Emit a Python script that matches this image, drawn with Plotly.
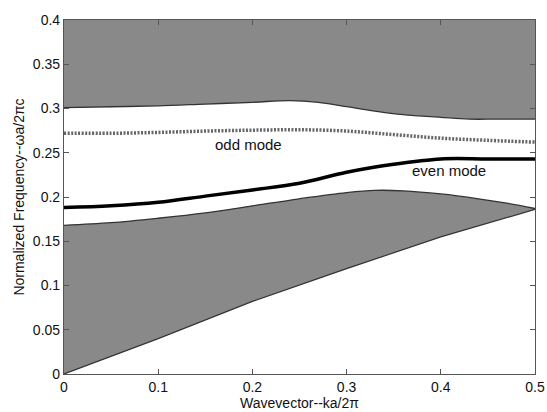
import plotly.graph_objects as go

# Upper gray region (band above the gap) lower boundary
k_up = [0, 0.05, 0.1, 0.15, 0.2, 0.24, 0.27, 0.3, 0.33, 0.36, 0.4, 0.43, 0.46, 0.5]
f_up = [0.301, 0.302, 0.303, 0.305, 0.307, 0.309, 0.307, 0.302, 0.297, 0.293, 0.290, 0.288, 0.288, 0.288]
f_top = 0.4

# Odd mode (dotted)
k_odd = [0, 0.05, 0.1, 0.15, 0.2, 0.25, 0.3, 0.35, 0.4, 0.45, 0.5]
f_odd = [0.272, 0.272, 0.273, 0.2745, 0.2755, 0.276, 0.2745, 0.2705, 0.2665, 0.264, 0.262]

# Even mode (solid)
k_even = [0, 0.05, 0.1, 0.15, 0.2, 0.25, 0.3, 0.35, 0.4, 0.45, 0.5]
f_even = [0.188, 0.190, 0.194, 0.201, 0.208, 0.2155, 0.228, 0.237, 0.243, 0.243, 0.243]

# Lower gray region: top boundary and light line
k_low = [0, 0.05, 0.1, 0.15, 0.2, 0.25, 0.3, 0.33, 0.36, 0.4, 0.44, 0.47, 0.5]
f_low = [0.168, 0.171, 0.176, 0.182, 0.190, 0.198, 0.205, 0.2075, 0.207, 0.2035, 0.198, 0.193, 0.187]
k_light = [0, 0.1, 0.2, 0.3, 0.4, 0.5]
f_light = [0, 0.040, 0.082, 0.119, 0.155, 0.186]

x_ticks = [0, 0.1, 0.2, 0.3, 0.4, 0.5]
x_ticklabels = ["0", "0.1", "0.2", "0.3", "0.4", "0.5"]
y_ticks = [0, 0.05, 0.1, 0.15, 0.2, 0.25, 0.3, 0.35, 0.4]
y_ticklabels = ["0", "0.05", "0.1", "0.15", "0.2", "0.25", "0.3", "0.35", "0.4"]

GRAY = "#898989"
EDGE = "#333333"
FONT = "Liberation Sans, Arial, sans-serif"

fig = go.Figure()

# upper region polygon
fig.add_trace(go.Scatter(
    x=k_up + k_up[::-1], y=f_up + [f_top] * len(k_up),
    fill="toself", fillcolor=GRAY, mode="lines",
    line=dict(color=GRAY, width=0), hoverinfo="skip", showlegend=False))
fig.add_trace(go.Scatter(x=k_up, y=f_up, mode="lines",
                         line=dict(color=EDGE, width=1.3, shape="spline"), showlegend=False))

# lower region polygon
fig.add_trace(go.Scatter(
    x=k_low + k_light[::-1], y=f_low + f_light[::-1],
    fill="toself", fillcolor=GRAY, mode="lines",
    line=dict(color=GRAY, width=0), hoverinfo="skip", showlegend=False))
fig.add_trace(go.Scatter(x=k_low, y=f_low, mode="lines",
                         line=dict(color=EDGE, width=1.3, shape="spline"), showlegend=False))
fig.add_trace(go.Scatter(x=k_light, y=f_light, mode="lines",
                         line=dict(color=EDGE, width=1.2), showlegend=False))

# modes
fig.add_trace(go.Scatter(x=k_odd, y=f_odd, mode="lines",
                         line=dict(color="#666666", width=3.5, dash="2px,1.5px", shape="spline"),
                         showlegend=False))
fig.add_trace(go.Scatter(x=k_even, y=f_even, mode="lines",
                         line=dict(color="#000000", width=3.5, shape="spline"), showlegend=False))

fig.add_annotation(x=0.196, y=0.259, text="odd mode", showarrow=False,
                   font=dict(family=FONT, size=15, color="#111111"))
fig.add_annotation(x=0.409, y=0.2305, text="even mode", showarrow=False,
                   font=dict(family=FONT, size=15, color="#111111"))

axis_common = dict(showgrid=False, zeroline=False, showline=True, linecolor="#555555",
                   linewidth=1.2, mirror="ticks", ticks="inside", ticklen=5,
                   tickcolor="#555555", automargin=False,
                   tickfont=dict(family=FONT, size=14, color="#111111"))

fig.update_xaxes(range=[0, 0.5], tickvals=x_ticks, ticktext=x_ticklabels,
                 title=dict(text="Wavevector--ka/2π", font=dict(family=FONT, size=14, color="#111111"),
                            standoff=2),
                 **axis_common)
fig.update_yaxes(range=[0, 0.4], tickvals=y_ticks, ticktext=y_ticklabels,
                 title=dict(text="Normalized Frequency--ωa/2πc",
                            font=dict(family=FONT, size=14, color="#111111"), standoff=4),
                 **axis_common)

fig.update_layout(width=547, height=412, margin=dict(l=64, r=12, t=20, b=38, autoexpand=False),
                  paper_bgcolor="white", plot_bgcolor="white")

fig.write_html("out.html")
